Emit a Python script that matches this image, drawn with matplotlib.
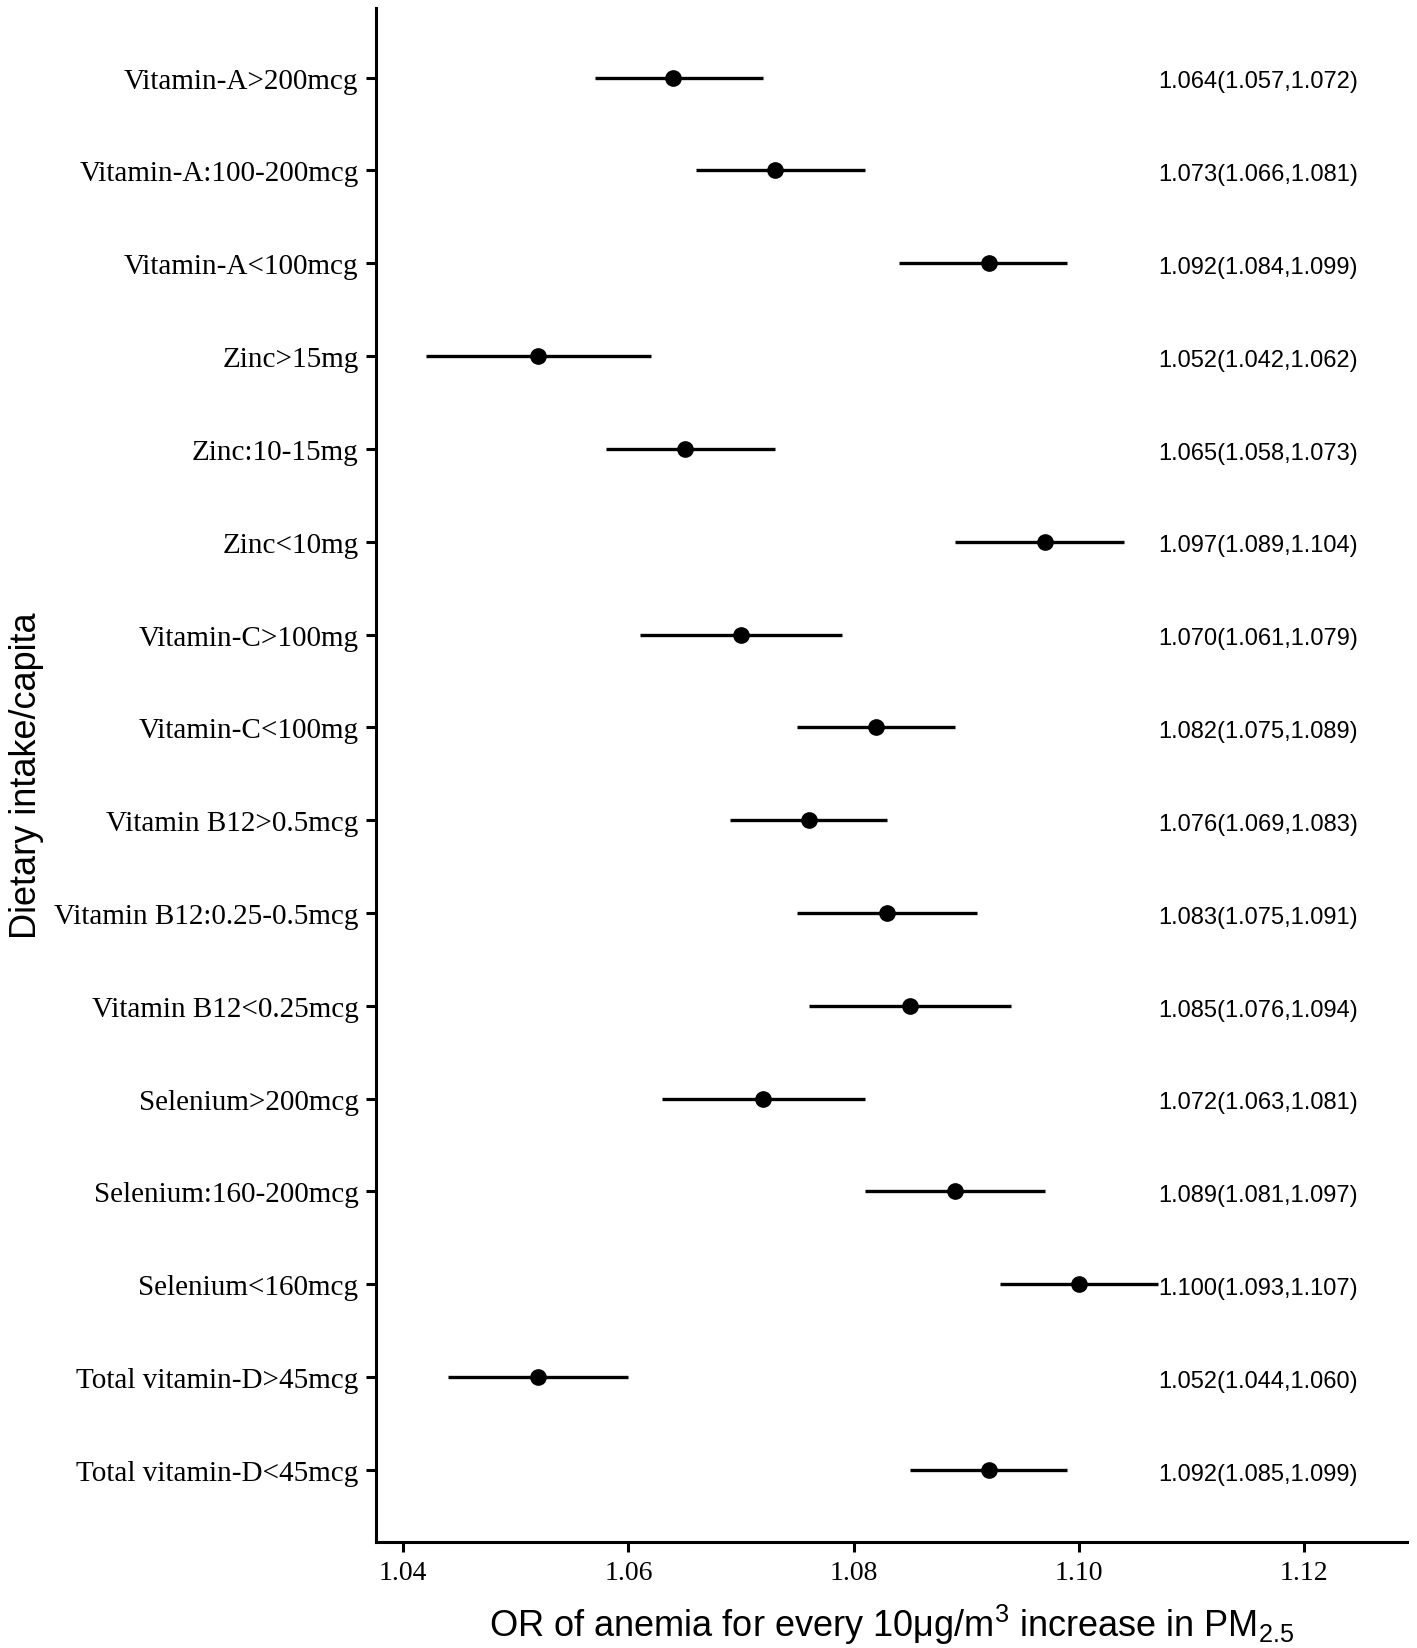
import matplotlib
matplotlib.use("Agg")
import matplotlib.pyplot as plt

categories = ["Vitamin-A>200mcg", "Vitamin-A:100-200mcg", "Vitamin-A<100mcg",
              "Zinc>15mg", "Zinc:10-15mg", "Zinc<10mg",
              "Vitamin-C>100mg", "Vitamin-C<100mg",
              "Vitamin B12>0.5mcg", "Vitamin B12:0.25-0.5mcg", "Vitamin B12<0.25mcg",
              "Selenium>200mcg", "Selenium:160-200mcg", "Selenium<160mcg",
              "Total vitamin-D>45mcg", "Total vitamin-D<45mcg"]
or_est = [1.064, 1.073, 1.092, 1.052, 1.065, 1.097, 1.070, 1.082,
          1.076, 1.083, 1.085, 1.072, 1.089, 1.100, 1.052, 1.092]
ci_low = [1.057, 1.066, 1.084, 1.042, 1.058, 1.089, 1.061, 1.075,
          1.069, 1.075, 1.076, 1.063, 1.081, 1.093, 1.044, 1.085]
ci_high = [1.072, 1.081, 1.099, 1.062, 1.073, 1.104, 1.079, 1.089,
           1.083, 1.091, 1.094, 1.081, 1.097, 1.107, 1.060, 1.099]
x_ticks = [1.04, 1.06, 1.08, 1.10, 1.12]
x_tick_labels = ["1.04", "1.06", "1.08", "1.10", "1.12"]

plt.rcParams['mathtext.fontset'] = 'custom'
plt.rcParams['mathtext.rm'] = 'Liberation Sans'
plt.rcParams['mathtext.it'] = 'Liberation Sans'
plt.rcParams['mathtext.default'] = 'regular'

fig = plt.figure(figsize=(14.17, 16.49), dpi=100)
ax = fig.add_axes([0.2657, 0.0643, 0.7272, 0.9302])

n = len(categories)
ypos = [n - i for i in range(n)]

for y, est, lo, hi in zip(ypos, or_est, ci_low, ci_high):
    ax.plot([lo, hi], [y, y], color='black', lw=2.4, solid_capstyle='butt', zorder=2)
    ax.plot([est], [y], 'o', color='black', ms=11, zorder=3)
    ax.text(1.1248, y - 0.04, f"{est:.3f}({lo:.3f},{hi:.3f})", ha='right', va='center',
            fontsize=17, family='Liberation Sans')

ax.set_xlim(1.03763, 1.12915)
ax.set_ylim(0.224, n + 0.75)
ax.set_yticks(ypos)
ax.set_yticklabels(categories, fontsize=21, family='Liberation Serif')
ax.set_xticks(x_ticks)
ax.set_xticklabels(x_tick_labels, fontsize=20, family='Liberation Serif')

for s in ['top', 'right']:
    ax.spines[s].set_visible(False)
for s in ['left', 'bottom']:
    ax.spines[s].set_linewidth(2.2)
ax.tick_params(axis='both', width=2.2, length=7, color='black', pad=6)

ax.set_xlabel(r"OR of anemia for every 10$\mu$g/m$^{3}$ increase in PM$_{2.5}$",
              fontsize=26, family='Liberation Sans', labelpad=12)
ax.set_ylabel("Dietary intake/capita", fontsize=26, family='Liberation Sans', labelpad=7)

fig.savefig("out.png", dpi=100)
